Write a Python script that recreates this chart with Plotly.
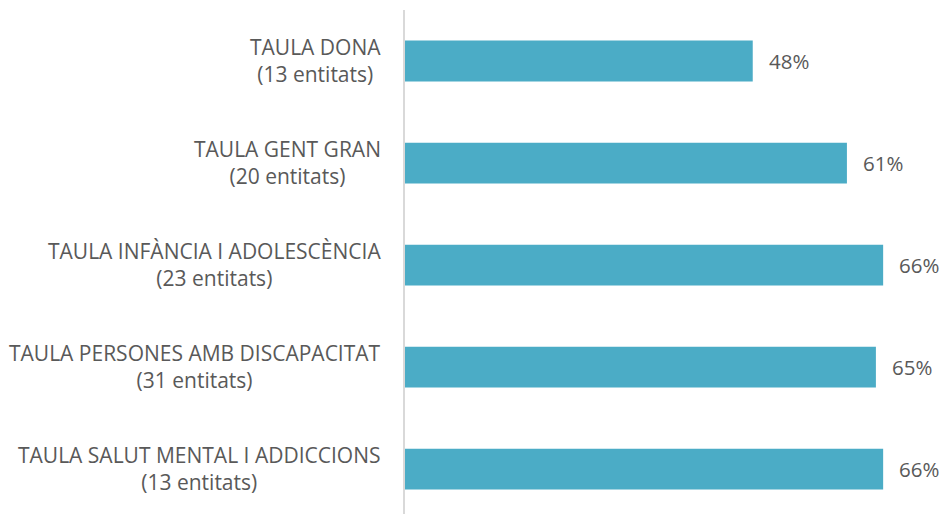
import plotly.graph_objects as go

categories = ["TAULA DONA", "TAULA GENT GRAN", "TAULA INFÀNCIA I ADOLESCÈNCIA",
              "TAULA PERSONES AMB DISCAPACITAT", "TAULA SALUT MENTAL I ADDICCIONS"]
entities = [13, 20, 23, 31, 13]
values = [48, 61, 66, 65, 66]

BAR = "#4BACC6"
TXT = "#595959"
FONT = "Open Sans"

fig = go.Figure(go.Bar(
    x=values, y=categories, orientation="h",
    marker=dict(color=BAR, line=dict(width=0)),
    width=0.4, hoverinfo="skip",
))

annotations = []
for c, n, v in zip(categories, entities, values):
    annotations.append(dict(
        x=0, xref="paper", y=c, yref="y", xanchor="right", yanchor="middle",
        xshift=-22, yshift=1, align="center", showarrow=False,
        text=f"{c}<br>({n} entitats)",
        font=dict(family=FONT, size=21, color=TXT),
    ))
    annotations.append(dict(
        x=v, xref="x", y=c, yref="y", xanchor="left", yanchor="middle",
        xshift=14, showarrow=False, text=f"{v}%",
        font=dict(family=FONT, size=20.5, color=TXT),
    ))

fig.update_layout(
    width=944, height=514,
    margin=dict(l=405, r=0, t=10, b=0),
    paper_bgcolor="white", plot_bgcolor="white",
    showlegend=False,
    annotations=annotations,
    xaxis=dict(range=[0, 74.4], showgrid=False, zeroline=False,
               showticklabels=False, showline=False, fixedrange=True),
    yaxis=dict(range=[4.44, -0.5], showgrid=False, zeroline=False,
               showticklabels=False, showline=True, linecolor="#d9d9d9",
               linewidth=2, ticks="", fixedrange=True),
)

fig.write_html(
    "out.html",
    config={"displayModeBar": False, "staticPlot": True},
    post_script="document.body.style.margin='0';document.body.style.overflow='hidden';",
)
